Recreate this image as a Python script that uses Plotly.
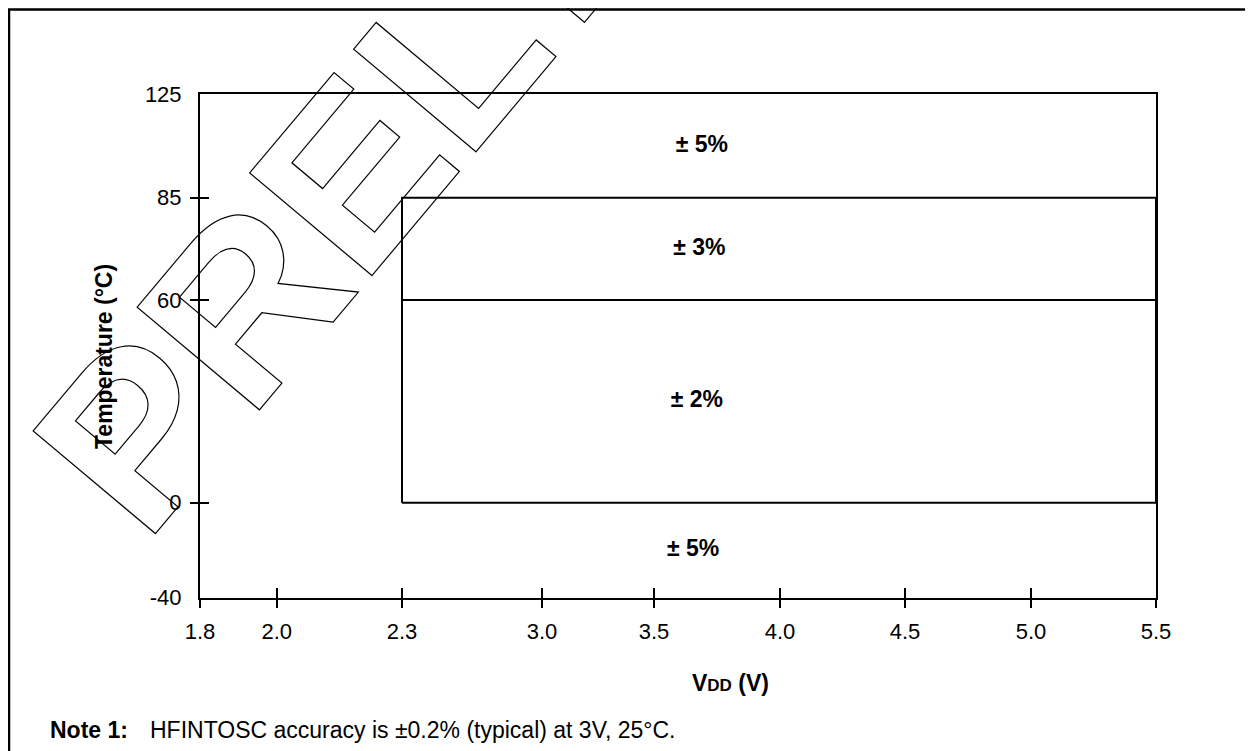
import base64
import numpy as np
import plotly.graph_objects as go

# tick values as printed on the chart
vdd_ticks = [1.8, 2.0, 2.3, 3.0, 3.5, 4.0, 4.5, 5.0, 5.5]
temp_ticks = [125, 85, 60, 0, -40]
temp_marked = [85, 60, 0]

# accuracy regions inside the full range
box_vdd = [(2.3, 5.5), (2.3, 5.5)]
box_temp = [(60, 85), (0, 60)]

# region labels
label_text = ['± 5%', '± 3%', '± 2%', '± 5%']
label_vdd = [3.69, 3.68, 3.67, 3.655]
label_temp = [105, 72.5, 30, -20]

# the axes are not drawn to scale: where each tick sits on the page (px)
vdd_tick_px = [200, 276.7, 402, 542, 654, 780, 905, 1031, 1156]
temp_tick_px = [94.3, 197.7, 300, 502.7, 597.7]

W, H = 1253, 751          # page size
OFF = 8                   # default body margin of the html page
PL, PR, PT, PB = 200, 1156, 94, 598   # plot area on the page
FONT = 'Liberation Sans, Arial, sans-serif'


def vx(v):
    return np.interp(v, vdd_ticks, vdd_tick_px)


def ty(t):
    return np.interp(t, temp_ticks[::-1], temp_tick_px[::-1])


def px(x):
    return (x - PL) / (PR - PL)


def py(y):
    return (PB - y) / (PB - PT)


fig = go.Figure()

# region boxes
for (v0, v1), (t0, t1) in zip(box_vdd, box_temp):
    xs = vx([v0, v1, v1, v0, v0])
    ys = ty([t0, t0, t1, t1, t0])
    fig.add_trace(go.Scatter(x=xs, y=ys, mode='lines', cliponaxis=False,
                             line=dict(color='black', width=2),
                             hoverinfo='skip', showlegend=False))

# region labels
fig.add_trace(go.Scatter(x=vx(label_vdd), y=ty(label_temp), mode='text',
                         text=label_text, textposition='middle center',
                         textfont=dict(family=FONT, size=23, color='black', weight='bold'),
                         hoverinfo='skip', showlegend=False))

# empty traces so the overlay axes (extra tick marks) get drawn
fig.add_trace(go.Scatter(x=[None], y=[None], xaxis='x2', yaxis='y', showlegend=False))
fig.add_trace(go.Scatter(x=[None], y=[None], xaxis='x', yaxis='y2', showlegend=False))
fig.add_trace(go.Scatter(x=[None], y=[None], xaxis='x', yaxis='y3', showlegend=False))

xr = [PL, PR]
yr = [PB, PT]
tick_font = dict(family=FONT, size=22, color='black')

fig.update_layout(
    width=W - OFF, height=H - OFF,
    margin=dict(l=PL - OFF, r=W - PR, t=PT - OFF, b=H - PB),
    paper_bgcolor='white', plot_bgcolor='rgba(0,0,0,0)',
    font=dict(family=FONT, color='black'),
    xaxis=dict(range=xr, tickmode='array', tickvals=vx(vdd_ticks),
               ticktext=[f'{v:.1f}' for v in vdd_ticks], tickfont=tick_font,
               ticks='outside', ticklen=8, tickwidth=2, tickcolor='black',
               ticklabelstandoff=5,
               showline=True, linewidth=2, linecolor='black', mirror=True,
               showgrid=False, zeroline=False, fixedrange=True),
    xaxis2=dict(range=xr, overlaying='x', anchor='y', side='bottom',
                tickmode='array', tickvals=vx(vdd_ticks), showticklabels=False,
                ticks='inside', ticklen=10, tickwidth=2, tickcolor='black',
                showgrid=False, zeroline=False, showline=False),
    yaxis=dict(range=yr, tickmode='array', tickvals=ty(temp_ticks),
               ticktext=[str(t) for t in temp_ticks], tickfont=tick_font,
               ticks='', ticklabelstandoff=12,
               showline=True, linewidth=2, linecolor='black', mirror=True,
               showgrid=False, zeroline=False, fixedrange=True),
    yaxis2=dict(range=yr, overlaying='y', anchor='x', side='left',
                tickmode='array', tickvals=ty(temp_marked), showticklabels=False,
                ticks='outside', ticklen=9, tickwidth=2, tickcolor='black',
                showgrid=False, zeroline=False, showline=False),
    yaxis3=dict(range=yr, overlaying='y', anchor='x', side='left',
                tickmode='array', tickvals=ty(temp_marked), showticklabels=False,
                ticks='inside', ticklen=9, tickwidth=2, tickcolor='black',
                showgrid=False, zeroline=False, showline=False),
)

# outer frame of the figure (right and bottom edges run off the page)
fig.add_shape(type='rect', xref='paper', yref='paper',
              x0=px(9), y0=py(H + 10), x1=px(W + 10), y1=py(9.4),
              line=dict(color='black', width=2.5))

# "PRELIMINARY" watermark, outlined letters behind the chart
svg = (f'<svg xmlns="http://www.w3.org/2000/svg" width="{W}" height="{H}" viewBox="0 0 {W} {H}">'
       '<text transform="translate(145 546) rotate(-50) scale(1.045 1)" '
       'font-family="Liberation Sans, Arial, sans-serif" font-weight="bold" font-size="232" '
       'fill="none" stroke="black" stroke-width="1.2">PREL<tspan dx="20">IMINARY</tspan></text></svg>')
fig.add_layout_image(dict(
    source='data:image/svg+xml;base64,' + base64.b64encode(svg.encode()).decode(),
    xref='paper', yref='paper', x=px(0), y=py(0),
    sizex=W / (PR - PL), sizey=H / (PB - PT),
    xanchor='left', yanchor='top', sizing='stretch', layer='below'))

# axis titles and note
fig.add_annotation(text='<b>Temperature (°C)</b>', textangle=-90,
                   xref='paper', yref='paper', x=px(104), y=py(357),
                   xanchor='center', yanchor='middle',
                   showarrow=False, font=dict(size=23))
fig.add_annotation(text="<b>V<span style='font-size:17px'>DD</span> (V)</b>",
                   xref='paper', yref='paper', x=px(730), y=py(683),
                   xanchor='center', yanchor='middle',
                   showarrow=False, font=dict(size=23))
fig.add_annotation(text='<b>Note 1:</b>', xref='paper', yref='paper',
                   x=px(48), y=py(730), xanchor='left', yanchor='middle',
                   showarrow=False, font=dict(size=23))
fig.add_annotation(text='HFINTOSC accuracy is ±0.2% (typical) at 3V, 25°C.',
                   xref='paper', yref='paper', x=px(148), y=py(730),
                   xanchor='left', yanchor='middle',
                   showarrow=False, font=dict(size=23))

fig.write_html('out.html')
